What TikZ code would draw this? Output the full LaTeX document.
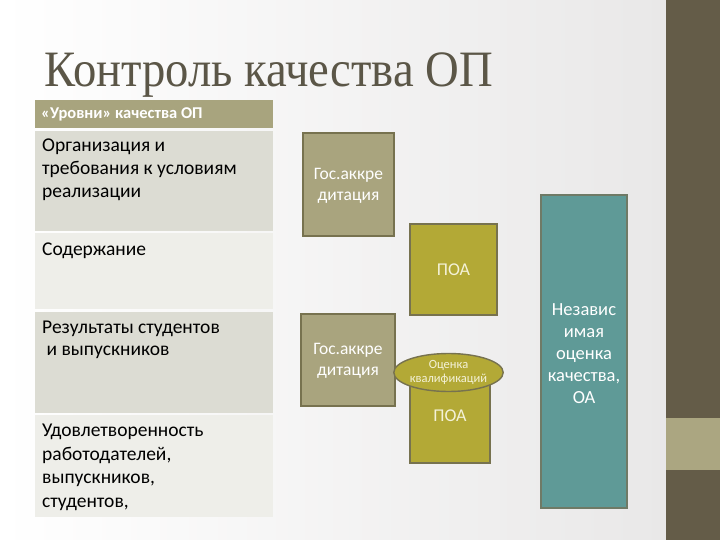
\documentclass[tikz,border=0pt]{standalone}
\usepackage{fontspec}
\setmainfont{Carlito}
\newfontfamily\titlefont{Liberation Serif}
\usetikzlibrary{shapes.geometric}
\definecolor{darkband}{HTML}{645C48}
\definecolor{lightband}{HTML}{ABA681}
\definecolor{hdr}{HTML}{A8A47E}
\definecolor{rowdark}{HTML}{DCDCD3}
\definecolor{rowlight}{HTML}{EEEEE9}
\definecolor{gosfill}{HTML}{A9A47E}
\definecolor{boxedge}{HTML}{77724F}
\definecolor{poafill}{HTML}{B3A936}
\definecolor{tealfill}{HTML}{5F9A97}
\definecolor{tealedge}{HTML}{6F7A66}
\definecolor{titlecol}{HTML}{5B5647}
\definecolor{bgright}{HTML}{E9E8E8}
\definecolor{poatext}{HTML}{F4F2D8}
\tikzset{
  rowtext/.style={anchor=base west, align=left, font=\fontsize{19.5}{22.5}\selectfont, text=black, inner sep=0pt},
  gosbox/.style={draw=boxedge, line width=1.4pt, fill=gosfill},
  poabox/.style={draw=boxedge, line width=1.4pt, fill=poafill},
  boxtext/.style={align=center, text=white, font=\fontsize{17.5}{21}\selectfont},
}
\begin{document}
\begin{tikzpicture}[x=1pt,y=-1pt]
\useasboundingbox (0,0) rectangle (720,540);
% background
\shade[left color=white, right color=bgright] (0,0) rectangle (666,540);
\fill[darkband] (666,0) rectangle (720,540);
\fill[lightband] (666,418) rectangle (720,470);
% title
\node[anchor=base west, inner sep=0pt, text=titlecol, font=\titlefont\fontsize{51}{51}\selectfont] (title) at (44,87) {\scalebox{0.915}[1]{Контроль качества ОП}};
% left column
\fill[hdr] (35,100) rectangle (273,128);
\node[anchor=west, inner sep=0pt, text=white, font=\bfseries\fontsize{16.5}{18}\selectfont] (hdrt) at (41,114) {«Уровни» качества ОП};
\fill[rowdark] (35,131) rectangle (273,231);
\fill[rowlight] (35,233) rectangle (273,309);
\fill[rowdark] (35,312) rectangle (273,413);
\fill[rowlight] (35,415) rectangle (273,517);
% (anchor = baseline of the last line)
\node[rowtext] (r1) at (42,197) {Организация и\\требования к условиям\\реализации};
\node[rowtext] (r2) at (42,255) {Содержание};
\node[rowtext] (r3) at (42,355.5) {Результаты студентов\\\ и выпускников};
\node[rowtext, font=\fontsize{19.5}{23.5}\selectfont] (r4) at (42,507) {Удовлетворенность\\работодателей,\\выпускников,\\студентов,};
% middle boxes
\draw[gosbox] (303,133) rectangle (394,236);
\node[boxtext] (gos1) at (348.5,186) {Гос.аккре\\дитация};
\draw[poabox] (410,224) rectangle (497,315);
\node[boxtext, text=poatext, font=\fontsize{18}{21}\selectfont] (poa1) at (453.5,270) {ПОА};
\draw[gosbox] (301,314) rectangle (395,406);
\node[boxtext] (gos2) at (348,361) {Гос.аккре\\дитация};
\draw[poabox] (410,366) rectangle (490,463);
\node[boxtext, text=poatext, font=\fontsize{18}{21}\selectfont] (poa2) at (450,416) {ПОА};
\node[ellipse, draw=boxedge, line width=1.4pt, fill=poafill, minimum width=108pt, minimum height=38pt, inner sep=0pt, align=center, text=poatext, font=\fontsize{12.5}{14}\selectfont] (ocen) at (448.5,372.5) {Оценка\\квалификаций};
% teal box
\draw[draw=tealedge, line width=1.4pt, fill=tealfill] (541,195) rectangle (627,508);
\node[align=center, text=white, font=\fontsize{18.5}{22}\selectfont] (oa) at (584,354) {Независ\\имая\\оценка\\качества,\\ОА};
\end{tikzpicture}
\end{document}
